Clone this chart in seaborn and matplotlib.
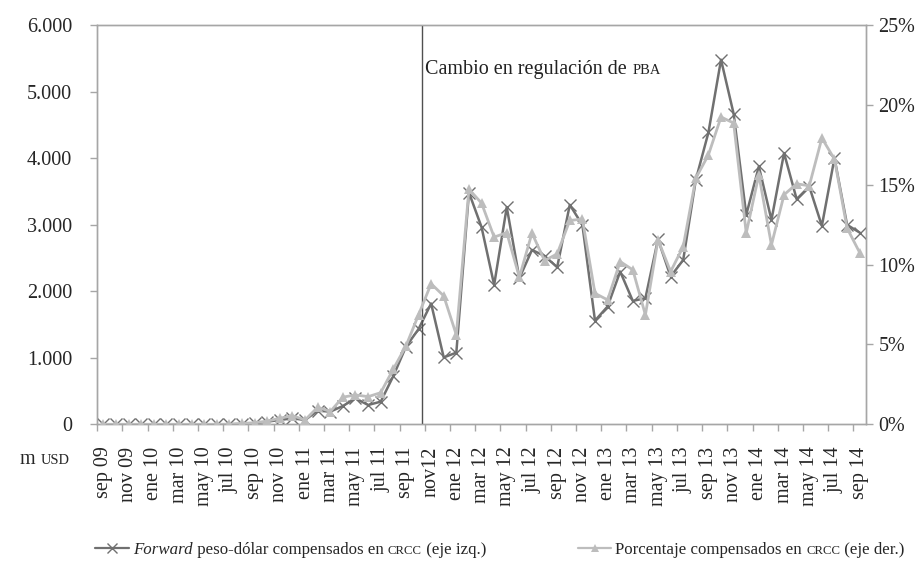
import numpy as np
import pandas as pd
import matplotlib
matplotlib.use("Agg")
import matplotlib.pyplot as plt
import seaborn as sns
from matplotlib.ticker import FuncFormatter, FixedLocator
from matplotlib.lines import Line2D
from matplotlib.offsetbox import TextArea, HPacker, DrawingArea, AnchoredOffsetbox

# datos mensuales sep 09 - sep 14
forward = [0, 0, 0, 0, 0, 0, 0, 0, 0, 0, 2,
           5, 15, 40, 65, 90, 65, 205, 190, 275, 390, 290, 340, 725, 1165,
           1430, 1815, 1005, 1077, 3483, 2963, 2095, 3263, 2195, 2620, 2530,
           2360, 3298, 2997, 1558, 1770, 2295, 1854, 1895, 2780, 2220, 2470,
           3674, 4385, 5478, 4666, 3147, 3874, 3072, 4075, 3383, 3573, 2982,
           4000, 2997, 2881]
porcentaje = [0, 0, 0, 0, 0, 0, 0, 0, 0, 0, 0,
              0.05, 0.1, 0.2, 0.38, 0.54, 0.27, 1.07, 0.8, 1.7, 1.84, 1.73,
              1.98, 3.46, 4.9, 6.85, 8.8, 8.04, 5.6, 14.72, 13.85, 11.72, 12.0,
              9.21, 11.97, 10.25, 10.67, 12.76, 12.85, 8.2, 7.79, 10.19, 9.67,
              6.85, 11.55, 9.56, 11.13, 15.41, 16.87, 19.24, 18.86, 11.97,
              15.62, 11.23, 14.37, 15.06, 14.93, 17.92, 16.6, 12.28, 10.75]
etiquetas = ["sep 09", "nov 09", "ene 10", "mar 10", "may 10", "jul 10",
             "sep 10", "nov 10", "ene 11", "mar 11", "may 11", "jul 11",
             "sep 11", "nov12", "ene 12", "mar 12", "may 12", "jul 12",
             "sep 12", "nov 12", "ene 13", "mar 13", "may 13", "jul 13",
             "sep 13", "nov 13", "ene 14", "mar 14", "may 14", "jul 14",
             "sep 14"]
cambio_pba = 25.3  # posicion de la linea vertical (entre oct 11 y nov 11)

df = pd.DataFrame({"mes": np.arange(len(forward)), "forward": forward,
                   "porcentaje": porcentaje})

sns.set_theme(style="white")
plt.rcParams["font.family"] = ["Liberation Serif", "DejaVu Serif"]

gris_osc = "#707070"
gris_cla = "#bdbdbd"
gris_eje = "#a6a6a6"
fs = 14.5

fig = plt.figure(figsize=(9.16, 5.68), dpi=100)
ax = fig.add_axes([0.106, 0.253, 0.8394, 0.703])
ax2 = ax.twinx()

sns.lineplot(data=df, x="mes", y="forward", ax=ax, color=gris_osc, lw=1.8,
             marker="x", markersize=8, markeredgewidth=1.0,
             markeredgecolor=gris_osc, zorder=3)
sns.lineplot(data=df, x="mes", y="porcentaje", ax=ax2, color=gris_cla, lw=2,
             marker="^", markersize=7, markeredgewidth=0,
             markerfacecolor=gris_cla, zorder=3)

ax.set_xlim(-0.5, len(forward) - 0.5)
ax.set_ylim(0, 6000)
ax2.set_ylim(0, 25)
ax.set_yticks(np.arange(0, 6001, 1000))
ax2.set_yticks(np.arange(0, 26, 5))
ax.yaxis.set_major_formatter(FuncFormatter(lambda v, p: f"{int(v):,}".replace(",", ".")))
ax2.yaxis.set_major_formatter(FuncFormatter(lambda v, p: f"{int(v)}%"))

ax.xaxis.set_major_locator(FixedLocator(df["mes"].values[::2]))
ax.set_xticklabels(etiquetas, rotation=90, fontsize=fs)
ax.xaxis.set_minor_locator(FixedLocator(np.arange(-0.5, len(forward), 2)))
ax.tick_params(axis="x", which="major", length=0, pad=16)
ax.tick_params(axis="x", which="minor", length=5, width=1, color=gris_eje,
               direction="out", bottom=True)
ax.tick_params(axis="y", length=5, width=1, color=gris_eje, direction="out",
               labelsize=fs, pad=13, left=True)
ax2.tick_params(axis="y", length=5, width=1, color=gris_eje, direction="out",
                labelsize=fs, pad=4, right=True)
ax.set_xlabel("")
ax.set_ylabel("")
ax2.set_ylabel("")

for a in (ax, ax2):
    for s in a.spines.values():
        s.set_color(gris_eje)
        s.set_linewidth(1)

ax.axvline(cambio_pba, color="#505050", lw=1, zorder=4)

# texto de la linea vertical, con PBA en versalitas
txt = HPacker(children=[TextArea("Cambio en regulación de ", textprops=dict(fontsize=fs, color="#222222")),
                        TextArea("PBA", textprops=dict(fontsize=fs * 0.72, color="#222222"))],
              align="baseline", pad=0, sep=0)
ab = AnchoredOffsetbox(loc="center left", child=txt, frameon=False, pad=0,
                       bbox_to_anchor=(cambio_pba + 0.25, 5330), bbox_transform=ax.transData,
                       borderpad=0)
ax.add_artist(ab)

# unidad del eje izquierdo
unidad = HPacker(children=[TextArea("m ", textprops=dict(fontsize=fs)),
                           TextArea("USD", textprops=dict(fontsize=fs * 0.72))],
                 align="baseline", pad=0, sep=0)
fig.add_artist(AnchoredOffsetbox(loc="center left", child=unidad, frameon=False,
                                 pad=0, borderpad=0, bbox_to_anchor=(0.022, 1 - 459 / 568),
                                 bbox_transform=fig.transFigure))

# leyenda
fl = 12.2


def manija(marker, color, ms, mew):
    da = DrawingArea(24, 10, 0, 0)
    da.add_artist(Line2D([0, 24], [4, 4], color=color, lw=1.6))
    da.add_artist(Line2D([12], [4], marker=marker, color=color, ms=ms, mew=mew))
    return da


piezas = [manija("x", gris_osc, 7, 1), TextArea(" ", textprops=dict(fontsize=fl)),
          TextArea("Forward", textprops=dict(fontsize=fl, style="italic")),
          TextArea(" peso-dólar compensados en ", textprops=dict(fontsize=fl)),
          TextArea("CRCC", textprops=dict(fontsize=fl * 0.75)),
          TextArea(" (eje izq.)", textprops=dict(fontsize=fl)),
          DrawingArea(66, 1, 0, 0),
          manija("^", gris_cla, 6, 0), TextArea(" ", textprops=dict(fontsize=fl)),
          TextArea("Porcentaje compensados en ", textprops=dict(fontsize=fl)),
          TextArea("CRCC", textprops=dict(fontsize=fl * 0.75)),
          TextArea(" (eje der.)", textprops=dict(fontsize=fl))]
ley = HPacker(children=piezas, align="baseline", pad=0, sep=0)
fig.add_artist(AnchoredOffsetbox(loc="center", child=ley, frameon=False, pad=0,
                                 borderpad=0, bbox_to_anchor=(0.546, 1 - 549 / 568),
                                 bbox_transform=fig.transFigure))

fig.savefig("out.png", dpi=100)
